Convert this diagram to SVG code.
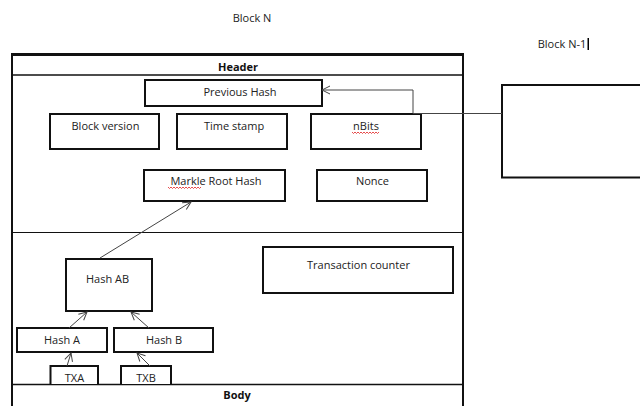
<svg xmlns="http://www.w3.org/2000/svg" width="640" height="406" viewBox="0 0 640 406">
<style>
.t{font-family:"Open Sans","Liberation Sans",sans-serif;font-size:11px;fill:#222;text-anchor:middle}
.b{font-weight:bold;fill:#111}
.box{fill:#fff;stroke:#111;stroke-width:2}
.c{fill:none;stroke:#444;stroke-width:1}
.sq{fill:none;stroke:#e02020;stroke-width:0.8}
</style>
<defs>
<marker id="ah" markerWidth="10" markerHeight="10" refX="9" refY="5" orient="auto" markerUnits="userSpaceOnUse">
<path d="M1,1 L9,5 L1,9" fill="none" stroke="#444" stroke-width="1"/>
</marker>
</defs>
<text class="t" x="252" y="22">Block N</text>
<g id="blockN1">
<text class="t" x="562" y="48">Block N-1</text>
<rect x="587.5" y="38" width="1.5" height="12" fill="#000"/>
<path d="M642,85 L502,85 L502,177.5 L642,177.5" fill="none" stroke="#111" stroke-width="2"/>
</g>
<g id="blockN">
<path d="M12,406 L12,55 L463,55 L463,406" fill="none" stroke="#111" stroke-width="2"/>
<line x1="11" y1="54.5" x2="464" y2="54.5" stroke="#111" stroke-width="3"/>
<line x1="12" y1="75" x2="463" y2="75" stroke="#111" stroke-width="1.5"/>
<text class="t b" x="238" y="71">Header</text>
<line x1="12" y1="232.5" x2="463" y2="232.5" stroke="#111" stroke-width="1"/>
<line x1="12" y1="384.5" x2="463" y2="384.5" stroke="#111" stroke-width="1.5"/>
<text class="t b" x="237" y="399">Body</text>
</g>
<g id="prevHash"><rect class="box" x="145" y="80" width="177" height="26"/><text class="t" x="240" y="96">Previous Hash</text></g>
<g id="blockVersion"><rect class="box" x="50" y="114" width="109" height="35"/><text class="t" x="105.5" y="130">Block version</text></g>
<g id="timeStamp"><rect class="box" x="177" y="114" width="110" height="35"/><text class="t" x="234" y="130">Time stamp</text></g>
<g id="nBits"><rect class="box" x="311" y="114" width="110" height="35"/><text class="t" x="366" y="130">nBits</text>
<path class="sq" d="M352,132 l1.5,1.5 l1.5,-1.5 l1.5,1.5 l1.5,-1.5 l1.5,1.5 l1.5,-1.5 l1.5,1.5 l1.5,-1.5 l1.5,1.5 l1.5,-1.5 l1.5,1.5 l1.5,-1.5 l1.5,1.5 l1.5,-1.5 l1.5,1.5 l1.5,-1.5 l1.5,1.5 l1.5,-1.5"/></g>
<g id="markle"><rect class="box" x="144" y="170" width="141" height="31"/><text class="t" x="216" y="185">Markle Root Hash</text>
<path class="sq" d="M168,187 l1.5,1.5 l1.5,-1.5 l1.5,1.5 l1.5,-1.5 l1.5,1.5 l1.5,-1.5 l1.5,1.5 l1.5,-1.5 l1.5,1.5 l1.5,-1.5 l1.5,1.5 l1.5,-1.5 l1.5,1.5 l1.5,-1.5 l1.5,1.5 l1.5,-1.5 l1.5,1.5 l1.5,-1.5 l1.5,1.5 l1.5,-1.5 l1.5,1.5 l1.5,-1.5"/></g>
<g id="nonce"><rect class="box" x="317" y="170" width="110" height="31"/><text class="t" x="372.5" y="185">Nonce</text></g>
<g id="hashAB"><rect class="box" x="66" y="259" width="86" height="52"/><text class="t" x="107.5" y="283">Hash AB</text></g>
<g id="txCounter"><rect class="box" x="263" y="247" width="190" height="46"/><text class="t" x="358.5" y="269">Transaction counter</text></g>
<g id="hashA"><rect class="box" x="17" y="328" width="90" height="24"/><text class="t" x="62" y="344">Hash A</text></g>
<g id="hashB"><rect class="box" x="114" y="328" width="99" height="24"/><text class="t" x="164" y="344">Hash B</text></g>
<g id="txa"><path d="M50.5,384 L50.5,366 L98,366 L98,384" fill="#fff" stroke="#111" stroke-width="2"/><text class="t" x="74.5" y="382">TXA</text></g>
<g id="txb"><path d="M121,384 L121,366 L171,366 L171,384" fill="#fff" stroke="#111" stroke-width="2"/><text class="t" x="146" y="382">TXB</text></g>
<g id="connectors">
<path class="c" d="M502,113.5 L413,113.5 L413,90 L322,90" marker-end="url(#ah)"/>
<line class="c" x1="100" y1="258" x2="191" y2="202" marker-end="url(#ah)"/>
<line class="c" x1="69" y1="328" x2="87" y2="312" marker-end="url(#ah)"/>
<line class="c" x1="149" y1="328" x2="131" y2="312" marker-end="url(#ah)"/>
<line class="c" x1="67" y1="366" x2="71" y2="353" marker-end="url(#ah)"/>
<line class="c" x1="150" y1="366" x2="137" y2="353" marker-end="url(#ah)"/>
</g>
</svg>
